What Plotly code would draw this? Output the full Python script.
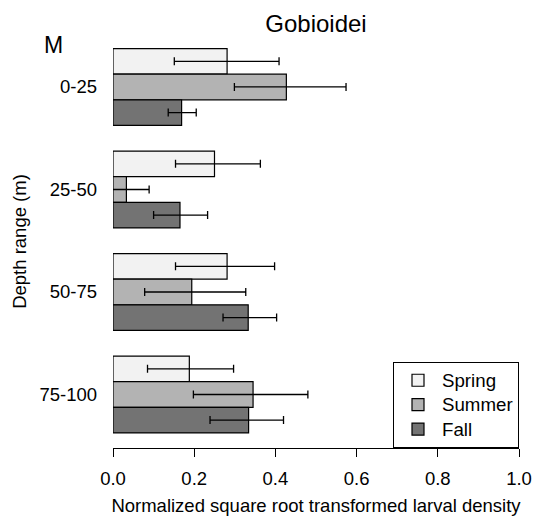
import plotly.graph_objects as go

# Depth ranges (m) and seasonal means of normalized sqrt-transformed larval density
depth_ranges = ["0-25", "25-50", "50-75", "75-100"]
seasons = ["Spring", "Summer", "Fall"]

spring_mean = [0.281, 0.250, 0.281, 0.188]
summer_mean = [0.427, 0.033, 0.194, 0.345]
fall_mean = [0.169, 0.165, 0.333, 0.334]

# Error bar extents below / above each mean
spring_err_minus = [0.130, 0.096, 0.127, 0.103]
spring_err_plus = [0.128, 0.113, 0.117, 0.109]
summer_err_minus = [0.128, 0.056, 0.116, 0.147]
summer_err_plus = [0.147, 0.056, 0.133, 0.135]
fall_err_minus = [0.033, 0.065, 0.062, 0.095]
fall_err_plus = [0.036, 0.068, 0.070, 0.086]

x_ticks = [0.0, 0.2, 0.4, 0.6, 0.8, 1.0]
x_tick_text = ["0.0", "0.2", "0.4", "0.6", "0.8", "1.0"]

fills = ["#F2F2F2", "#B3B3B3", "#737373"]
FONT = "Liberation Sans, Arial, Helvetica, sans-serif"

series = [
    (spring_mean, spring_err_minus, spring_err_plus),
    (summer_mean, summer_err_minus, summer_err_plus),
    (fall_mean, fall_err_minus, fall_err_plus),
]

fig = go.Figure()
for name, color, (mean, em, ep) in zip(seasons, fills, series):
    fig.add_trace(go.Bar(
        y=depth_ranges,
        x=mean,
        # larger glyphs than the legend's base size keep the rows compact
        name=f'<span style="font-size:18.7px">{name}</span>',
        orientation="h",
        marker=dict(color=color, line=dict(color="black", width=1.2)),
        error_x=dict(
            type="data",
            symmetric=False,
            array=ep,
            arrayminus=em,
            color="black",
            thickness=1.3,
            width=4,
        ),
    ))

fig.update_layout(
    template="none",
    width=538,
    height=516,
    margin=dict(l=113, r=19, t=35, b=68),
    paper_bgcolor="white",
    plot_bgcolor="white",
    barmode="group",
    bargap=0.25,
    bargroupgap=0,
    font=dict(family=FONT, size=18, color="black"),
    title=dict(
        text="Gobioidei",
        font=dict(family=FONT, size=24, color="black"),
        x=0.5,
        xref="paper",
        xanchor="center",
        y=1 - 24 / 516,
        yref="container",
        yanchor="middle",
    ),
    xaxis=dict(
        automargin=False,
        range=[0, 1],
        tickvals=x_ticks,
        ticktext=x_tick_text,
        ticks="outside",
        ticklen=8,
        tickwidth=1,
        tickcolor="black",
        ticklabelstandoff=6,
        showline=True,
        linecolor="black",
        linewidth=1,
        showgrid=False,
        zeroline=False,
        tickfont=dict(size=18.5),
        title=dict(
            text="Normalized square root transformed larval density",
            font=dict(size=18.5),
            standoff=14,
        ),
    ),
    yaxis=dict(
        automargin=False,
        type="category",
        categoryorder="array",
        categoryarray=depth_ranges,
        range=[3.522, -0.507],
        showline=False,
        showgrid=False,
        zeroline=False,
        ticks="",
        ticklabelstandoff=15,
        tickfont=dict(size=18.5),
        title=dict(text="Depth range (m)", font=dict(size=18.5), standoff=7),
    ),
    legend=dict(
        x=1,
        y=0,
        xanchor="right",
        yanchor="bottom",
        bordercolor="black",
        borderwidth=1,
        bgcolor="white",
        itemwidth=38,
        font=dict(family=FONT, size=16.5, color="black"),
        traceorder="normal",
    ),
    annotations=[
        dict(
            text="M",
            xref="paper",
            yref="paper",
            x=(42 - 113) / 406,
            y=0.976,
            xanchor="left",
            yanchor="middle",
            showarrow=False,
            font=dict(family=FONT, size=23, color="black"),
        )
    ],
)

fig.write_html("out.html")
